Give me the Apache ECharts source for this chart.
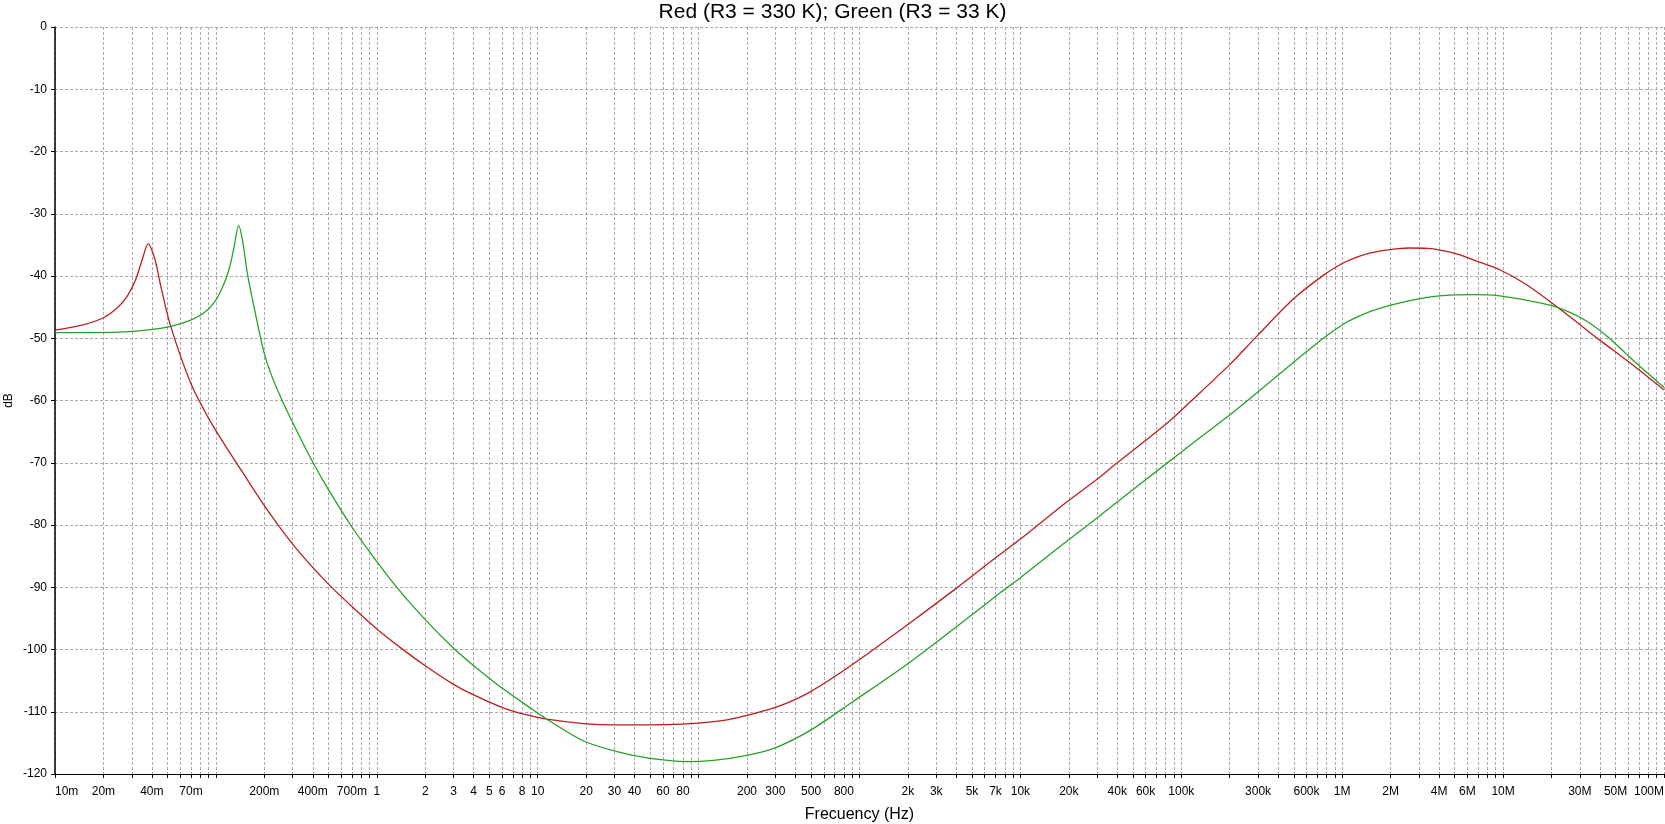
<!DOCTYPE html>
<html><head><meta charset="utf-8">
<script src="https://cdn.jsdelivr.net/npm/echarts@6/dist/echarts.min.js"></script>
<style>html,body{margin:0;padding:0;background:#fff}#c{width:1665px;height:824px}</style>
</head><body><div id="c"></div>
<script>
const titleText = 'Red (R3 = 330 K); Green (R3 = 33 K)';
const xAxisName = 'Frecuency (Hz)';
const yAxisName = 'dB';

// Red curve (R3 = 330 K): frequency in Hz, magnitude in dB
const redFreq = [0.01, 0.0151, 0.02, 0.0244, 0.0282, 0.0317, 0.0349, 0.038, 0.0412, 0.0433, 0.0454, 0.0524,
  0.0697, 0.0885, 0.112, 0.142, 0.199, 0.305, 0.492, 0.687, 1.0, 1.47, 2.0, 3.0, 4.0, 6.0, 8.2, 11.4,
  19.3, 30, 50, 79, 103, 150, 200, 299, 400, 494, 650, 918, 1968, 4024, 7480, 9950, 19400, 31260, 38700, 81100, 116000,
  200600, 294000, 497000, 763000, 1.0e6, 1.17e6, 1.5e6, 1.98e6, 2.6e6, 3.4e6, 4.4e6, 5.4e6, 7e6, 9.55e6, 1.4e7, 2.15e7,
  3.99e7, 6.4e7, 1e8];
const redDb = [-48.7, -47.8, -46.7, -45.1, -43.2, -40.6, -37.3, -34.8, -36.8, -39.0, -41.6, -48.1,
  -57.2, -62.5, -66.9, -71.0, -76.8, -83.3, -89.3, -92.9, -96.7, -100.1, -102.6, -105.6, -107.3, -109.3, -110.4, -111.2,
  -111.9, -112.1, -112.1, -112.0, -111.8, -111.3, -110.6, -109.3, -108.0, -106.8, -104.9, -102.3, -96.1, -90.1, -84.7, -82.3, -76.3, -72.3, -70.3, -63.7, -60.0,
  -54.2, -49.7, -43.7, -39.9, -38.0, -37.2, -36.3, -35.75, -35.5, -35.55, -36.0, -36.6, -37.7, -39.0, -41.4, -44.9,
  -50.3, -54.3, -58.3];

// Green curve (R3 = 33 K)
const greenFreq = [0.01, 0.0244, 0.0393, 0.0524, 0.0697, 0.0843, 0.0973, 0.1096, 0.1205, 0.1294, 0.1384, 0.146,
  0.1567, 0.172, 0.1986, 0.2188, 0.258, 0.33, 0.406, 0.492, 0.687, 0.914, 1.34, 2.0, 3.0, 4.0, 6.0, 9.0, 11.4, 19.3,
  31.1, 50, 84.7, 124, 200, 299, 494, 918, 1968, 4024, 7480, 9950, 19400, 31260, 38700, 81100, 116000,
  200600, 294000, 497000, 763000, 1.01e6, 1.17e6, 1.5e6, 1.98e6, 3.1e6, 4.2e6, 6.5e6, 9.3e6, 1.54e7, 2.15e7,
  3.14e7, 4.39e7, 6.4e7, 1e8];
const greenDb = [-49.1, -49.0, -48.6, -48.1, -47.1, -45.9, -44.3, -41.9, -39.0, -35.5, -31.9, -34.1,
  -39.5, -44.8, -52.2, -55.6, -60.0, -65.7, -70.2, -74.0, -80.0, -84.5, -90.1, -95.2, -99.8, -102.6, -106.2, -109.4, -111.2, -114.7,
  -116.4, -117.5, -118.0, -117.8, -117.0, -115.8, -113.0, -108.3, -102.4, -96.3, -90.9, -88.5, -82.6, -78.5, -76.6, -70.1, -67.0,
  -62.3, -58.8, -53.9, -50.0, -47.8, -46.9, -45.7, -44.7, -43.6, -43.15, -43.0, -43.15, -44.1, -45.0,
  -46.9, -49.6, -53.5, -57.9];

// Axis ticks
const xDecades = [0.01, 0.1, 1, 10, 100, 1e3, 1e4, 1e5, 1e6, 1e7];
const xMultipliers = [1, 2, 3, 4, 5, 6, 7, 8, 9];
const xMaxFreq = 1e8;
const xLabelFreqs = [0.01, 0.02, 0.04, 0.07, 0.2, 0.4, 0.7, 1, 2, 3, 4, 5, 6, 8, 10, 20, 30, 40, 60, 80,
  200, 300, 500, 800, 2e3, 3e3, 5e3, 7e3, 1e4, 2e4, 4e4, 6e4, 1e5, 3e5, 6e5, 1e6, 2e6, 4e6, 6e6, 1e7,
  3e7, 5e7, 1e8];
const yMin = -120, yMax = 0, yStep = 10;

const xTickFreqs = [];
xDecades.forEach(d => xMultipliers.forEach(m => xTickFreqs.push(d * m)));
xTickFreqs.push(xMaxFreq);

function fmtFreq(v) {
  const f = Math.pow(10, v);
  let val, suf;
  if (f >= 1e6 * (1 - 1e-9)) { val = f / 1e6; suf = 'M'; }
  else if (f >= 1e3 * (1 - 1e-9)) { val = f / 1e3; suf = 'k'; }
  else if (f >= 1 - 1e-9) { val = f; suf = ''; }
  else { val = f * 1e3; suf = 'm'; }
  return String(Math.round(val)) + suf;
}

const toPts = (fs, ds) => fs.map((f, i) => [Math.log10(f), ds[i]]);
const font = 'Liberation Sans, Arial, sans-serif';
const gridDash = { color: '#aaaaaa', width: 1, type: [3, 2] };

const chart = echarts.init(document.getElementById('c'), null, { renderer: 'canvas' });
chart.setOption({
  animation: false,
  backgroundColor: '#ffffff',
  title: {
    text: titleText, left: 'center', top: 2, padding: 0,
    textStyle: { fontFamily: font, fontSize: 21, fontWeight: 'normal', color: '#000' }
  },
  grid: { left: 55, right: 1, top: 27, bottom: 50, containLabel: false, outerBoundsMode: 'none' },
  xAxis: {
    type: 'value', min: Math.log10(xDecades[0]), max: Math.log10(xMaxFreq),
    name: xAxisName, nameLocation: 'middle', nameGap: 33,
    nameTextStyle: { fontFamily: font, fontSize: 16, color: '#000' },
    axisLine: { onZero: false, lineStyle: { color: '#000', width: 1 } },
    axisTick: { show: true, length: 4, lineStyle: { color: '#000' },
      customValues: xTickFreqs.map(f => Math.log10(f)) },
    axisLabel: { fontFamily: font, fontSize: 12, color: '#000', margin: 12,
      customValues: xLabelFreqs.map(f => Math.log10(f)),
      formatter: fmtFreq, hideOverlap: false,
      alignMinLabel: 'left', alignMaxLabel: 'right' },
    splitLine: { show: true, lineStyle: gridDash }
  },
  yAxis: {
    type: 'value', min: yMin, max: yMax, interval: yStep,
    name: yAxisName, nameLocation: 'middle', nameGap: 40, nameRotate: 90, nameMoveOverlap: false,
    nameTextStyle: { fontFamily: font, fontSize: 12, color: '#000' },
    axisLine: { show: true, onZero: false, lineStyle: { color: '#000', width: 1.5 } },
    axisTick: { show: true, length: 4, lineStyle: { color: '#000' } },
    axisLabel: { fontFamily: font, fontSize: 12, color: '#000', margin: 8 },
    splitLine: { show: true, lineStyle: gridDash }
  },
  series: [
    { name: 'Red', type: 'line', data: toPts(redFreq, redDb), showSymbol: false,
      smooth: 0.3, lineStyle: { color: '#bb1e1e', width: 1.3 }, z: 3 },
    { name: 'Green', type: 'line', data: toPts(greenFreq, greenDb), showSymbol: false,
      smooth: 0.3, lineStyle: { color: '#26a026', width: 1.3 }, z: 4 }
  ]
});
</script></body></html>
